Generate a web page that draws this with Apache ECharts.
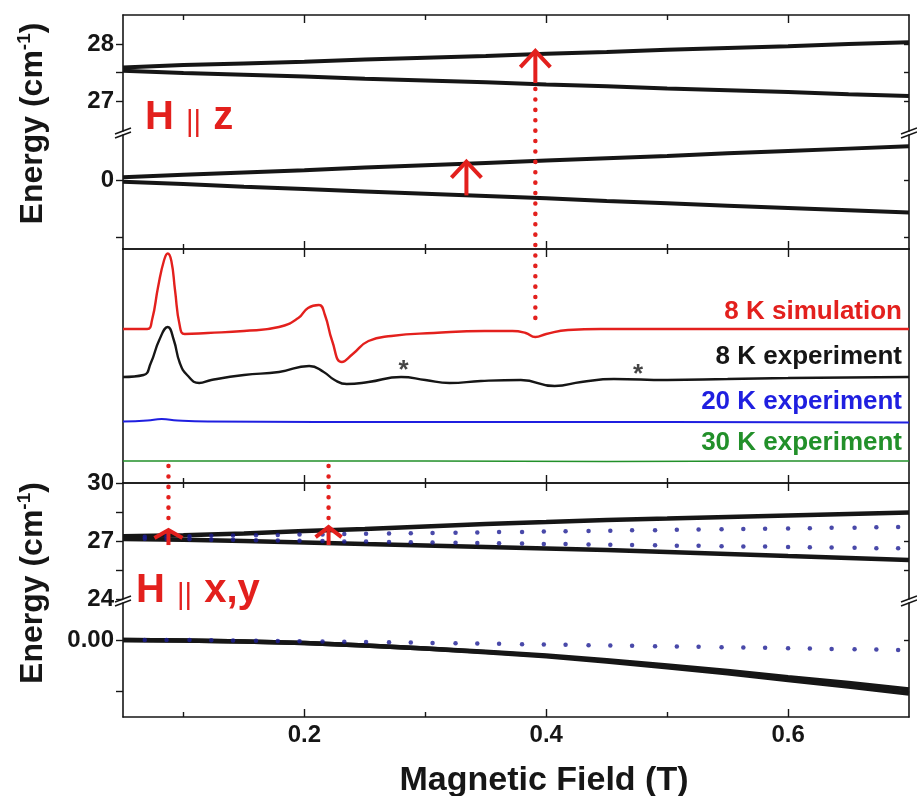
<!DOCTYPE html>
<html>
<head>
<meta charset="utf-8">
<script src="https://cdn.jsdelivr.net/npm/echarts@6/dist/echarts.min.js"></script>
<style>
html,body{margin:0;padding:0;background:#fff}
#main{width:917px;height:796px}
</style>
</head>
<body>
<div id="main"></div>
<script>
// field grid for the energy levels (T)
var field = [0.05, 0.1, 0.15, 0.2, 0.25, 0.3, 0.35, 0.4, 0.45, 0.5, 0.55, 0.6, 0.65, 0.7];

// H || z levels (cm-1)
var zHighUp = [27.59, 27.63, 27.66, 27.69, 27.73, 27.76, 27.79, 27.83, 27.86, 27.90, 27.93, 27.96, 28.00, 28.03];
var zHighDn = [27.53, 27.49, 27.46, 27.43, 27.39, 27.36, 27.33, 27.29, 27.26, 27.22, 27.19, 27.16, 27.12, 27.09];
var zLowUp = [0.05, 0.09, 0.13, 0.17, 0.22, 0.26, 0.30, 0.34, 0.38, 0.42, 0.47, 0.51, 0.55, 0.59];
var zLowDn = [-0.03, -0.07, -0.12, -0.16, -0.20, -0.24, -0.28, -0.32, -0.37, -0.41, -0.45, -0.49, -0.53, -0.57];

// H || x,y levels (cm-1)
var xyHighUp = [27.25, 27.30, 27.39, 27.52, 27.62, 27.75, 27.88, 27.98, 28.09, 28.16, 28.24, 28.32, 28.40, 28.47];
var xyHighDn = [27.10, 27.06, 27.00, 26.92, 26.84, 26.77, 26.69, 26.61, 26.53, 26.43, 26.33, 26.22, 26.12, 26.02];
var xyLowA = [0, -0.0005, -0.0015, -0.0029, -0.0054, -0.0083, -0.0116, -0.0152, -0.0199, -0.0250, -0.0304, -0.0365, -0.0422, -0.0485];
var xyLowB = [0, -0.0005, -0.0015, -0.0029, -0.0054, -0.0083, -0.0120, -0.0160, -0.0212, -0.0268, -0.0327, -0.0392, -0.0455, -0.0525];

// dotted levels (H || x,y, other model)
var dotField = [0.068, 0.086, 0.105, 0.123, 0.141, 0.160, 0.178, 0.196, 0.215, 0.233, 0.251, 0.270, 0.288, 0.306, 0.325, 0.343, 0.361, 0.380, 0.398, 0.416, 0.435, 0.453, 0.471, 0.490, 0.508, 0.526, 0.545, 0.563, 0.581, 0.600, 0.618, 0.636, 0.655, 0.673, 0.691];
var dotUp = [27.22, 27.24, 27.25, 27.27, 27.28, 27.30, 27.31, 27.33, 27.34, 27.36, 27.37, 27.39, 27.40, 27.42, 27.43, 27.44, 27.46, 27.47, 27.49, 27.50, 27.52, 27.53, 27.55, 27.56, 27.58, 27.59, 27.61, 27.62, 27.63, 27.65, 27.66, 27.68, 27.69, 27.71, 27.72];
var dotDn = [27.12, 27.10, 27.09, 27.07, 27.06, 27.04, 27.03, 27.01, 27.00, 26.98, 26.97, 26.95, 26.94, 26.92, 26.91, 26.90, 26.88, 26.87, 26.85, 26.84, 26.82, 26.81, 26.79, 26.78, 26.76, 26.75, 26.73, 26.72, 26.71, 26.69, 26.68, 26.66, 26.65, 26.63, 26.62];
var dotGround = [0, 0, 0, -0.0003, -0.0005, -0.0007, -0.0010, -0.0012, -0.0015, -0.0018, -0.0020, -0.0023, -0.0025, -0.0029, -0.0031, -0.0034, -0.0037, -0.0041, -0.0044, -0.0047, -0.0051, -0.0054, -0.0057, -0.0061, -0.0064, -0.0067, -0.0071, -0.0074, -0.0076, -0.0080, -0.0083, -0.0087, -0.0090, -0.0094, -0.0098];

// spectra (arb. units)
var simField = [0.05, 0.070, 0.074, 0.079, 0.084, 0.087, 0.090, 0.093, 0.097, 0.101, 0.12, 0.15, 0.179, 0.195, 0.203, 0.212, 0.217, 0.223, 0.231, 0.240, 0.253, 0.272, 0.307, 0.349, 0.372, 0.383, 0.391, 0.400, 0.418, 0.445, 0.55, 0.70];
var simVal = [154, 154, 163, 196, 223, 229.5, 222, 193, 157, 149, 150, 152, 156, 165, 175, 178, 168, 142, 121, 129, 142, 147, 150, 152, 152, 150, 146, 149, 153, 154, 154, 154];
var exp8Field = [0.05, 0.067, 0.073, 0.080, 0.087, 0.092, 0.097, 0.103, 0.113, 0.123, 0.15, 0.179, 0.204, 0.216, 0.225, 0.235, 0.253, 0.280, 0.300, 0.320, 0.346, 0.379, 0.407, 0.429, 0.456, 0.5, 0.55, 0.6, 0.7];
var exp8Val = [106, 108, 120, 143, 156, 143, 120, 108, 100, 103, 108, 111, 117, 111, 103, 99, 101, 106, 103, 100, 102, 103, 97, 101, 104, 103, 104, 105, 106];
var exp20Field = [0.05, 0.07, 0.082, 0.095, 0.12, 0.3, 0.5, 0.7];
var exp20Val = [61.5, 62.5, 64, 62.5, 61.5, 61, 61, 60.5];
var exp30Field = [0.05, 0.3, 0.45, 0.6, 0.7];
var exp30Val = [22, 22, 21.5, 22, 22];
var starField = [0.282, 0.476];
var starVal = [117, 113];

// tick labels
var fieldTicks = [0.2, 0.4, 0.6];
var fieldMinor = [0.1, 0.3, 0.5];

var chart = echarts.init(document.getElementById('main'));
var FONT = 'Arial, "Liberation Sans", Helvetica, sans-serif';
var INK = '#161616';
var RED = '#e3201d';
var DOT = '#1c1c94';
var L = 123, R = 909;

function pairs(xs, ys) { return xs.map(function (x, i) { return [x, ys[i]]; }); }

var grids = [
  {left: L, right: 917 - R, top: 15, height: 116},
  {left: L, right: 917 - R, top: 135, height: 114},
  {left: L, right: 917 - R, top: 249, height: 234},
  {left: L, right: 917 - R, top: 483, height: 116},
  {left: L, right: 917 - R, top: 603, height: 114}
].map(function (g) { g.containLabel = false; g.outerBoundsMode = 'none'; return g; });

var xAxes = [], yAxes = [];
function addX(g, pos, ticks, len, labels, showLine) {
  xAxes.push({
    type: 'value', gridIndex: g, position: pos, min: 0.05, max: 0.7,
    axisLine: {show: showLine, onZero: false, lineStyle: {color: INK, width: 1.6}},
    axisTick: {show: true, inside: true, length: len, customValues: ticks, lineStyle: {color: INK, width: 1.4}},
    axisLabel: labels ? {show: true, customValues: labels, margin: 6, color: INK,
      fontFamily: FONT, fontWeight: 'bold', fontSize: 24} : {show: false},
    splitLine: {show: false}
  });
  return xAxes.length - 1;
}
function addY(g, pos, min, max, ticks, labels, fmt) {
  var left = pos === 'left';
  yAxes.push({
    type: 'value', gridIndex: g, position: pos, min: min, max: max,
    axisLine: {show: true, onZero: false, lineStyle: {color: INK, width: 1.6}},
    axisTick: ticks ? {show: true, inside: !left, length: left ? 7 : 5, customValues: ticks,
      lineStyle: {color: INK, width: 1.4}} : {show: false},
    axisLabel: (left && labels) ? {show: true, customValues: labels, margin: 9, color: INK,
      fontFamily: FONT, fontWeight: 'bold', fontSize: 24,
      formatter: fmt || function (v) { return String(v); }} : {show: false},
    splitLine: {show: false}
  });
  return yAxes.length - 1;
}

// grid 0: H||z upper
var xA = addX(0, 'top', fieldTicks, 8, null, true); addX(0, 'top', fieldMinor, 5, null, false);
var yA = addY(0, 'left', 26.474, 28.509, [27, 27.5, 28], [27, 28]); addY(0, 'right', 26.474, 28.509, [27, 27.5, 28]);
// grid 1: H||z lower
var xB = addX(1, 'bottom', fieldTicks, 8, null, true); addX(1, 'bottom', fieldMinor, 5, null, false);
var yB = addY(1, 'left', -1.2105, 0.789, [-1, 0], [0]); addY(1, 'right', -1.2105, 0.789, [-1, 0]);
// grid 2: spectra
var xC = addX(2, 'top', fieldTicks, 8, null, true); addX(2, 'top', fieldMinor, 5, null, false);
addX(2, 'bottom', fieldTicks, 8, null, true); addX(2, 'bottom', fieldMinor, 5, null, false);
var yC = addY(2, 'left', 0, 234, null, null); addY(2, 'right', 0, 234, null, null);
// grid 3: H||x,y upper
var xD = addX(3, 'top', fieldTicks, 8, null, true); addX(3, 'top', fieldMinor, 5, null, false);
var yD = addY(3, 'left', 24, 30, [24, 25.5, 27, 28.5, 30], [24, 27, 30]); addY(3, 'right', 24, 30, [25.5, 27, 28.5]);
// grid 4: H||x,y lower
var xE = addX(4, 'bottom', fieldTicks, 8, fieldTicks, true); addX(4, 'bottom', fieldMinor, 5, null, false);
var yE = addY(4, 'left', -0.0755, 0.0363, [-0.05, 0], [0], function (v) { return v.toFixed(2); });
addY(4, 'right', -0.0755, 0.0363, [-0.05, 0]);

function line(xi, yi, xs, ys, color, width, z) {
  return {type: 'line', xAxisIndex: xi, yAxisIndex: yi, data: pairs(xs, ys), symbol: 'none',
    showSymbol: false, lineStyle: {color: color, width: width}, z: z || 2, silent: true};
}
function smoothLine(xi, yi, xs, ys, color, width) {
  var s = line(xi, yi, xs, ys, color, width, 3);
  s.smooth = 0.5;
  return s;
}
function dots(xi, yi, xs, ys) {
  return {type: 'scatter', xAxisIndex: xi, yAxisIndex: yi, data: pairs(xs, ys), symbolSize: 4.5,
    itemStyle: {color: DOT}, z: 5, silent: true};
}

var series = [
  line(xA, yA, field, zHighUp, INK, 4),
  line(xA, yA, field, zHighDn, INK, 4),
  line(xB, yB, field, zLowUp, INK, 4),
  line(xB, yB, field, zLowDn, INK, 4),
  smoothLine(xC, yC, simField, simVal, RED, 2.4),
  smoothLine(xC, yC, exp8Field, exp8Val, INK, 2.4),
  smoothLine(xC, yC, exp20Field, exp20Val, '#1f1fe0', 2),
  smoothLine(xC, yC, exp30Field, exp30Val, '#22902a', 1.6),
  {type: 'scatter', xAxisIndex: xC, yAxisIndex: yC, data: pairs(starField, starVal), symbolSize: 2,
    itemStyle: {color: 'rgba(0,0,0,0)'}, silent: true, z: 6,
    label: {show: true, position: 'inside', formatter: '*', color: INK, fontFamily: FONT,
      fontWeight: 'bold', fontSize: 26, offset: [0, 5]}},
  line(xD, yD, field, xyHighUp, INK, 4.5),
  line(xD, yD, field, xyHighDn, INK, 4.5),
  dots(xD, yD, dotField, dotUp),
  dots(xD, yD, dotField, dotDn),
  line(xE, yE, field, xyLowA, INK, 4.5),
  line(xE, yE, field, xyLowB, INK, 4.5),
  dots(xE, yE, dotField, dotGround)
];

chart.setOption({
  animation: false,
  backgroundColor: '#fff',
  grid: grids,
  xAxis: xAxes,
  yAxis: yAxes,
  series: series
});

// transition arrows: field, panel axes, shaft from -> tip, head half-width/height
var arrows = [
  {h: 0.334, xi: xB, yi: yB, from: -0.27, to: 0.32, hw: 15, hh: 16},
  {h: 0.391, xi: xA, yi: yA, from: 27.316, to: 27.877, hw: 15, hh: 16,
    dotTo: {xi: xC, yi: yC, v: 155}},
  {h: 0.0876, xi: xD, yi: yD, from: 26.79, to: 27.57, hw: 14, hh: 8,
    dotFrom: {xi: xC, yi: yC, v: 17}},
  {h: 0.22, xi: xD, yi: yD, from: 26.79, to: 27.72, hw: 13, hh: 10,
    dotFrom: {xi: xC, yi: yC, v: 17}}
];

function px(xi, yi, x, y) { return chart.convertToPixel({xAxisIndex: xi, yAxisIndex: yi}, [x, y]); }

var g = [];
var dotted = {stroke: RED, lineWidth: 4.5, lineDash: [0.1, 10.3], lineCap: 'round'};
arrows.forEach(function (a) {
  var p0 = px(a.xi, a.yi, a.h, a.from), p1 = px(a.xi, a.yi, a.h, a.to);
  if (a.dotTo) {
    var q = px(a.dotTo.xi, a.dotTo.yi, a.h, a.dotTo.v);
    g.push({type: 'line', z: 50, shape: {x1: p0[0], y1: p0[1] + 6, x2: q[0], y2: q[1]}, style: dotted});
  }
  if (a.dotFrom) {
    var r = px(a.dotFrom.xi, a.dotFrom.yi, a.h, a.dotFrom.v);
    g.push({type: 'line', z: 50, shape: {x1: r[0], y1: r[1], x2: p1[0], y2: p1[1] - 2}, style: dotted});
  }
  g.push({type: 'line', z: 51, shape: {x1: p0[0], y1: p0[1], x2: p1[0], y2: p1[1] + 2},
    style: {stroke: RED, lineWidth: 4}});
  g.push({type: 'polyline', z: 51, shape: {points: [[p1[0] - a.hw, p1[1] + a.hh], [p1[0], p1[1]], [p1[0] + a.hw, p1[1] + a.hh]]},
    style: {stroke: RED, lineWidth: 4, fill: null, lineJoin: 'miter'}});
});

// axis breaks
[133, 601].forEach(function (y) {
  [L, R].forEach(function (x) {
    g.push({type: 'line', z: 60, shape: {x1: x - 8, y1: y + 1, x2: x + 8, y2: y - 5}, style: {stroke: INK, lineWidth: 1.5}});
    g.push({type: 'line', z: 60, shape: {x1: x - 8, y1: y + 5, x2: x + 8, y2: y - 1}, style: {stroke: INK, lineWidth: 1.5}});
  });
});

var titleRich = {
  a: {fontFamily: FONT, fontWeight: 'bold', fontSize: 32, fill: INK, lineHeight: 36},
  s: {fontFamily: FONT, fontWeight: 'bold', fontSize: 19, fill: INK, verticalAlign: 'top', lineHeight: 20}
};
[123.5, 583].forEach(function (y) {
  g.push({type: 'text', x: 33, y: y, rotation: Math.PI / 2, z: 60,
    style: {text: '{a|Energy (cm}{s|-1}{a|)}', rich: titleRich, align: 'center', verticalAlign: 'middle'}});
});

var dirRich = {
  h: {fontFamily: FONT, fontWeight: 'bold', fontSize: 40, fill: RED},
  p: {fontFamily: FONT, fontWeight: 'normal', fontSize: 29, fill: RED, padding: [10, 1, 0, 1]}
};
g.push({type: 'text', x: 145, y: 118, z: 60,
  style: {text: '{h|H }{p|||}{h| z}', rich: dirRich, align: 'left', verticalAlign: 'middle'}});
g.push({type: 'text', x: 136, y: 591, z: 60,
  style: {text: '{h|H }{p|||}{h| x,y}', rich: dirRich, align: 'left', verticalAlign: 'middle'}});

[['8 K simulation', RED, 312], ['8 K experiment', INK, 357],
 ['20 K experiment', '#1f1fe0', 402], ['30 K experiment', '#22902a', 443]].forEach(function (t) {
  g.push({type: 'text', x: 902, y: t[2], z: 60,
    style: {text: t[0], fill: t[1], font: 'bold 26px ' + FONT, align: 'right', verticalAlign: 'middle'}});
});

g.push({type: 'text', x: 544, y: 781, z: 60,
  style: {text: 'Magnetic Field (T)', fill: INK, font: 'bold 34px ' + FONT, align: 'center', verticalAlign: 'middle'}});

chart.setOption({graphic: g});
</script>
</body>
</html>
